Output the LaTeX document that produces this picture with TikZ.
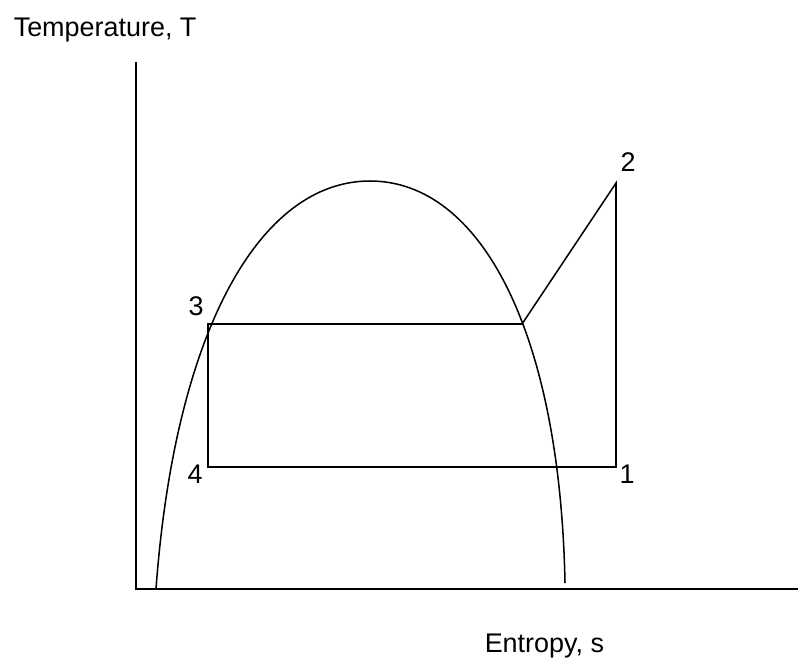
\documentclass[tikz,border=0pt]{standalone}
\usepackage{fontspec}
\setmainfont{Liberation Sans}
\usetikzlibrary{positioning}
\begin{document}
\begin{tikzpicture}[x=0.03cm,y=-0.03cm,line width=1.3pt,
  lbl/.style={font=\fontsize{23}{27}\selectfont,inner sep=0pt}]
\useasboundingbox (0,0) rectangle (798,661);
% axes
\coordinate (orig) at (136,589);
\coordinate (ttop) at (136,62);
\coordinate (send) at (798,589);
\draw (ttop) -- (orig) -- (send);
\node[lbl,anchor=base west] (tlabel) at (13,36) {Temperature, T};
\node[lbl,anchor=base west] (slabel) at (484,652) {Entropy, s};
% saturation dome
\draw (156,589) .. controls (175,330) and (260,181) .. (370,181)
  .. controls (480,181) and (560,330) .. (565,583);
% cycle 1-2-3-4
\coordinate (p1) at (616,467);
\coordinate (p2) at (616,183);
\coordinate (p3) at (208,324);
\coordinate (p4) at (208,467);
\coordinate (pg) at (522,324);
\draw[line join=miter] (p3) -- (pg) -- (p2) -- (p1) -- (p4) -- cycle;
\node[lbl,anchor=base] (n1) at (627,483) {1};
\node[lbl,anchor=base] (n2) at (628,171) {2};
\node[lbl,anchor=base] (n3) at (196,315) {3};
\node[lbl,anchor=base] (n4) at (195,483) {4};
\end{tikzpicture}
\end{document}
